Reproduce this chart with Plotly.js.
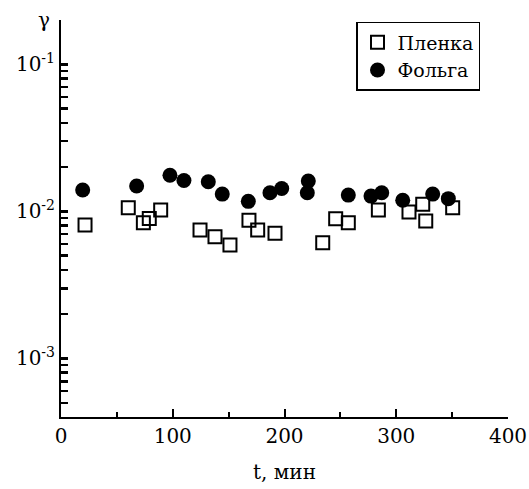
<!DOCTYPE html>
<html>
<head>
<meta charset="utf-8">
<script src="https://cdn.plot.ly/plotly-3.0.1.min.js"></script>
<style>html,body{margin:0;padding:0;background:#fff;}#chart{width:529px;height:489px;}</style>
</head>
<body>
<div id="chart"></div>
<script>
const plenkaT = [21.5, 60.2, 73.7, 79, 89.2, 124.4, 137.8, 151.2, 168.2, 176, 191.5, 234.2, 245.8, 257.1, 284, 311.4, 323.7, 326.4, 350.5];
const plenkaG = [0.00807, 0.0106, 0.00838, 0.00896, 0.0102, 0.00746, 0.00673, 0.0059, 0.00869, 0.00746, 0.00709, 0.00612, 0.00892, 0.00838, 0.0102, 0.0099, 0.0112, 0.0086, 0.0106];
const folgaT = [19.4, 67.7, 97.5, 110, 131.8, 144.3, 167.6, 187, 197.5, 220.4, 221.3, 257.1, 277.4, 287, 305.8, 332.6, 346.6];
const folgaG = [0.01396, 0.01486, 0.0176, 0.0162, 0.0159, 0.0131, 0.0117, 0.0134, 0.0143, 0.0134, 0.0161, 0.0129, 0.0127, 0.0134, 0.0119, 0.0131, 0.0122];
const seriesNames = ['Пленка', 'Фольга'];
const yMajorVals = [0.001, 0.01, 0.1];
const yMajorText = ['10<sup>-3</sup>', '10<sup>-2</sup>', '10<sup>-1</sup>'];
const yMinorVals = [0.0004, 0.0005, 0.0006, 0.0007, 0.0008, 0.0009,
  0.002, 0.003, 0.004, 0.005, 0.006, 0.007, 0.008, 0.009,
  0.02, 0.03, 0.04, 0.05, 0.06, 0.07, 0.08, 0.09, 0.2];
const xTitle = 't, мин';
const yTitle = 'γ';

const FONT = 'DejaVu Serif';
const yRange = [Math.log10(0.0004), Math.log10(0.2)];

const yTickVals = yMajorVals.concat(yMinorVals);
const yTickText = yMajorText.concat(yMinorVals.map(() => ''));

const traces = [
  {x: plenkaT, y: plenkaG, name: seriesNames[0], type: 'scatter', mode: 'markers',
   marker: {symbol: 'square-open', size: 13, color: '#000', line: {width: 2, color: '#000'}}},
  {x: folgaT, y: folgaG, name: seriesNames[1], type: 'scatter', mode: 'markers',
   marker: {symbol: 'circle', size: 15, color: '#000'}}
];

const layout = {
  width: 529, height: 489,
  margin: {l: 61, r: 21, t: 20, b: 72},
  paper_bgcolor: '#fff', plot_bgcolor: '#fff',
  font: {family: FONT, color: '#000', size: 20},
  showlegend: true,
  legend: {x: 0.66, xref: 'paper', xanchor: 'left', y: 0.995, yanchor: 'top',
    bordercolor: '#000', borderwidth: 1.5, bgcolor: '#fff', entrywidth: 112,
    font: {family: FONT, size: 19, color: '#000'}, itemwidth: 30, tracegroupgap: 0},
  xaxis: {range: [0, 400], dtick: 100, tick0: 0, ticks: 'inside', ticklen: 8, tickwidth: 2,
    tickcolor: '#000', showline: true, linecolor: '#000', linewidth: 2, showgrid: false, zeroline: false,
    tickfont: {family: FONT, size: 20, color: '#000'},
    minor: {dtick: 50, ticks: 'inside', ticklen: 5, tickwidth: 2, tickcolor: '#000', showgrid: false},
    title: {text: xTitle, font: {family: FONT, size: 20, color: '#000'}, standoff: 18}},
  yaxis: {type: 'log', range: yRange, tickmode: 'array',
    tickvals: yTickVals, ticktext: yTickText, ticks: 'inside', ticklen: 7, tickwidth: 2.5,
    tickcolor: '#000', showline: true, linecolor: '#000', linewidth: 2, showgrid: false, zeroline: false,
    tickfont: {family: FONT, size: 20, color: '#000'}},
  annotations: [{text: yTitle, xref: 'paper', yref: 'paper', x: -25/447, y: 1.0, xanchor: 'left', yanchor: 'middle',
    showarrow: false, font: {family: FONT, size: 20, color: '#000'}}]
};

Plotly.newPlot('chart', traces, layout, {displayModeBar: false, staticPlot: true});
</script>
</body>
</html>
